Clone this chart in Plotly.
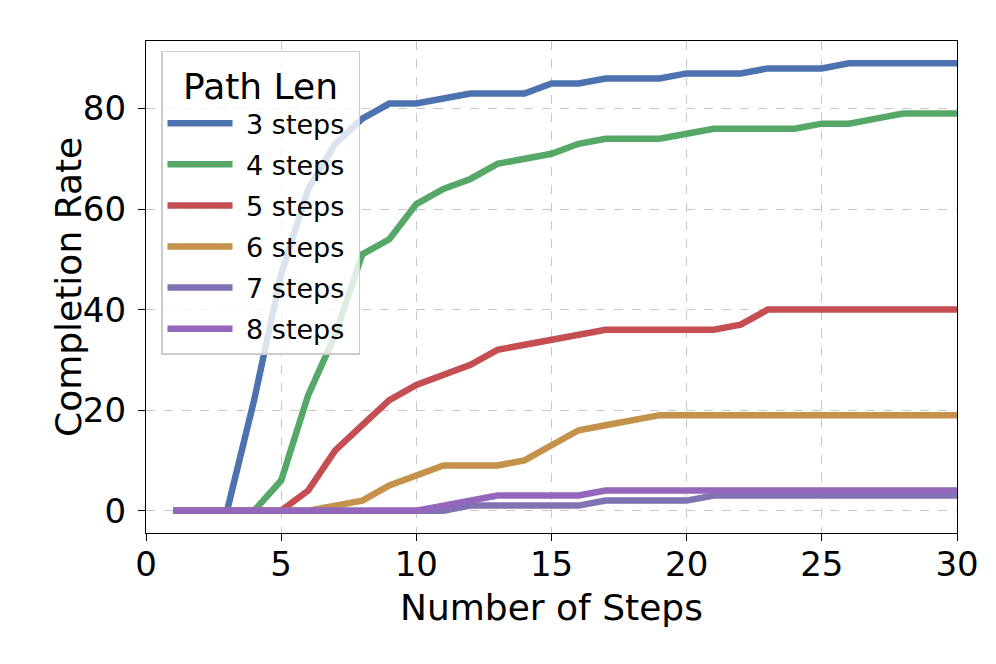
import plotly.graph_objects as go

steps = list(range(1, 31))

series_names = ["3 steps", "4 steps", "5 steps", "6 steps", "7 steps", "8 steps"]

s3 = [0, 0, 0, 22, 47, 64, 73, 78, 81, 81, 82, 83, 83, 83, 85, 85, 86, 86, 86, 87,
      87, 87, 88, 88, 88, 89, 89, 89, 89, 89]
s4 = [0, 0, 0, 0, 6, 23, 35, 51, 54, 61, 64, 66, 69, 70, 71, 73, 74, 74, 74, 75,
      76, 76, 76, 76, 77, 77, 78, 79, 79, 79]
s5 = [0, 0, 0, 0, 0, 4, 12, 17, 22, 25, 27, 29, 32, 33, 34, 35, 36, 36, 36, 36,
      36, 37, 40, 40, 40, 40, 40, 40, 40, 40]
s6 = [0, 0, 0, 0, 0, 0, 1, 2, 5, 7, 9, 9, 9, 10, 13, 16, 17, 18, 19, 19,
      19, 19, 19, 19, 19, 19, 19, 19, 19, 19]
s7 = [0, 0, 0, 0, 0, 0, 0, 0, 0, 0, 0, 1, 1, 1, 1, 1, 2, 2, 2, 2,
      3, 3, 3, 3, 3, 3, 3, 3, 3, 3]
s8 = [0, 0, 0, 0, 0, 0, 0, 0, 0, 0, 1, 2, 3, 3, 3, 3, 4, 4, 4, 4,
      4, 4, 4, 4, 4, 4, 4, 4, 4, 4]

series_values = [s3, s4, s5, s6, s7, s8]
colors = ["#4C72B0", "#55A868", "#C44E52", "#C4924A", "#8172B3", "#9467BD"]

x_ticks = [0, 5, 10, 15, 20, 25, 30]
y_ticks = [0, 20, 40, 60, 80]
x_title = "Number of Steps"
y_title = "Completion Rate"
legend_title = "Path Len"

FONT = "DejaVu Sans"
NBSP = "\u00a0"

fig = go.Figure()
for name, vals, col in zip(series_names, series_values, colors):
    fig.add_trace(go.Scatter(
        x=steps, y=vals, mode="lines", name=NBSP + name + NBSP, legendgroup=name,
        line=dict(color=col, width=6.5),
    ))

axis_common = dict(
    showline=True, linecolor="black", linewidth=1.3, mirror=True,
    ticks="outside", ticklen=7, tickwidth=1.3, tickcolor="black",
    showgrid=True, gridcolor="#c8c8c8", gridwidth=1, griddash="dash",
    zeroline=False, tickfont=dict(family=FONT, size=34, color="black"),
)

fig.update_xaxes(
    range=[0, 30], tickvals=x_ticks, ticktext=[str(v) for v in x_ticks],
    ticklabelstandoff=-6,
    **axis_common,
)
fig.update_yaxes(
    range=[-4.45, 93.45], tickvals=y_ticks, ticktext=[str(v) for v in y_ticks],
    ticklabelstandoff=5,
    **axis_common,
)

fig.add_annotation(
    text=x_title, xref="paper", yref="paper", x=0.5, y=-0.152,
    xanchor="center", yanchor="middle", showarrow=False,
    font=dict(family=FONT, size=36, color="black"),
)
fig.add_annotation(
    text=y_title, xref="paper", yref="paper", x=-0.0962, y=0.5,
    xanchor="center", yanchor="middle", showarrow=False, textangle=-90,
    font=dict(family=FONT, size=36, color="black"),
)

fig.update_layout(
    width=996, height=664,
    margin=dict(l=138, r=47, t=33, b=139),
    paper_bgcolor="white", plot_bgcolor="white",
    font=dict(family=FONT, color="black"),
    legend=dict(
        x=0.0185, y=0.98, xanchor="left", yanchor="top",
        bgcolor="rgba(255,255,255,0.8)", bordercolor="#cccccc", borderwidth=1.5,
        font=dict(family=FONT, size=27, color="black"),
        title=dict(text=legend_title, font=dict(family=FONT, size=36, color="black"), side="top center"),
        itemwidth=65, tracegroupgap=3,
    ),
)

fig.write_html("out.html")
